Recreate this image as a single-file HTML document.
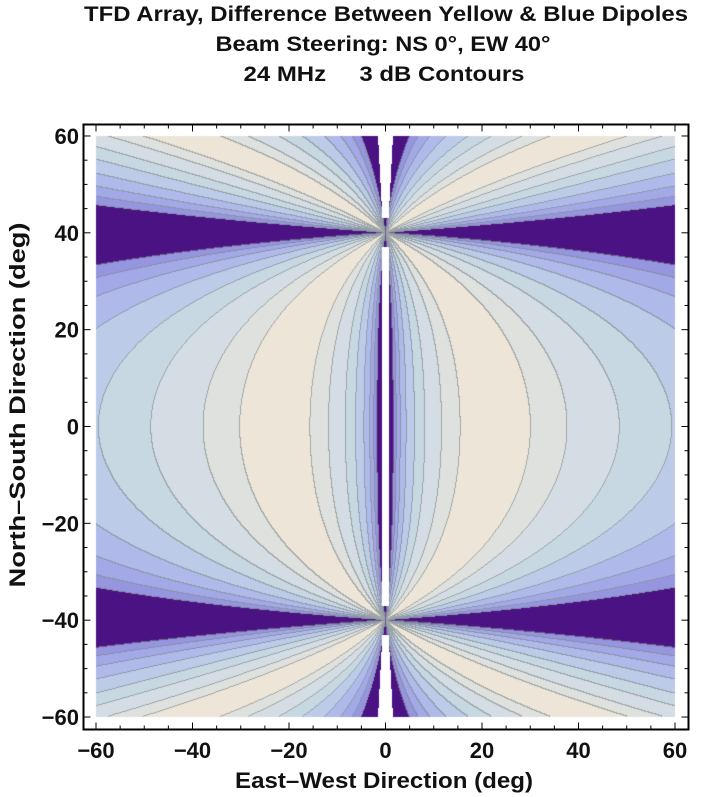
<!DOCTYPE html>
<html><head><meta charset="utf-8"><style>
body{margin:0;background:#fff;width:723px;height:797px;overflow:hidden;position:relative;font-family:"Liberation Sans",Arial,sans-serif}
canvas{position:absolute;left:0;top:0}
svg{position:absolute;left:0;top:0}
text{font-family:"Liberation Sans",Arial,sans-serif;font-weight:bold;fill:#111}
</style></head><body>
<canvas id="cv" width="723" height="797"></canvas>
<svg id="sv" width="723" height="797">
<g>
<text x="386" y="21" font-size="21" text-anchor="middle" textLength="604" lengthAdjust="spacingAndGlyphs">TFD Array, Difference Between Yellow &amp; Blue Dipoles</text>
<text x="383" y="51" font-size="21" text-anchor="middle" textLength="335" lengthAdjust="spacingAndGlyphs">Beam Steering: NS 0°, EW 40°</text>
<text x="384" y="81" font-size="21" text-anchor="middle" textLength="281" lengthAdjust="spacingAndGlyphs" xml:space="preserve">24 MHz     3 dB Contours</text>
</g>
<text x="384" y="788" font-size="22" text-anchor="middle" textLength="298" lengthAdjust="spacingAndGlyphs">East–West Direction (deg)</text>
<text transform="translate(25,405) rotate(-90)" font-size="22" text-anchor="middle" textLength="365" lengthAdjust="spacingAndGlyphs">North–South Direction (deg)</text>
</svg>
<script>
const levels=[93,50,30,21,14.6,10.4,7.6,5.6];
const bandColors=["#ece5d8","#dfe1de","#d4dde3","#c8d8e3","#bccbe8","#afbaea","#a3a8e6","#9696e0","#4b1283"];
const focusY=40;
const xTicks=[-60,-40,-20,0,20,40,60];
const yTicks=[-60,-40,-20,0,20,40,60];
const minorTicks=[-60,-55,-50,-45,-40,-35,-30,-25,-20,-15,-10,-5,0,5,10,15,20,25,30,35,40,45,50,55,60];

function sx(v){return 385.5+v*4.825;}
function sy(v){return 426.5-v*4.842;}
function ix(p){return (p-385.5)/4.825;}
function iy(p){return (426.5-p)/4.842;}
function field(x,y){
  const q=y*y-focusY*focusY;
  const s2=1.89e-4*q*q*(1+3.7e-4*y*y);
  return Math.abs(x*q)/(Math.abs(x*x-s2)+1e-9)*Math.exp(-Math.abs(x)/150);
}
function band(v){let b=0;while(b<levels.length&&v<levels[b])b++;return b;}
function hex(c){return [parseInt(c.substr(1,2),16),parseInt(c.substr(3,2),16),parseInt(c.substr(5,2),16)];}

const cv=document.getElementById('cv');const ctx=cv.getContext('2d');
const x0=Math.round(sx(-60)),x1=Math.round(sx(60)),y0=Math.round(sy(60)),y1=Math.round(sy(-60));
const W=x1-x0,H=y1-y0;
const img=ctx.createImageData(W,H);
const bands=new Int8Array(W*H);
for(let j=0;j<H;j++){for(let i=0;i<W;i++){
  const x=ix(x0+i+0.5),y=iy(y0+j+0.5);const v=field(x,y);
  let b=band(v);
  const ay=Math.abs(y);
  const hw=0.75+Math.max(0,(ay-45)/15)*0.8;
  if(Math.abs(x)<hw&&Math.abs(ay-focusY)>3)b=-1;
  bands[j*W+i]=b;
}}
const rgb=bandColors.map(hex);
for(let j=0;j<H;j++){for(let i=0;i<W;i++){
  const b=bands[j*W+i];let c=b<0?[255,255,255]:rgb[b];
  if(b>=0){const r=i+1<W?bands[j*W+i+1]:b,d=j+1<H?bands[(j+1)*W+i]:b;
    if((r!==b&&r>=0)||(d!==b&&d>=0)){c=[Math.round(c[0]*0.35+128*0.65),Math.round(c[1]*0.35+136*0.65),Math.round(c[2]*0.35+138*0.65)];}}
  const k=(j*W+i)*4;img.data[k]=c[0];img.data[k+1]=c[1];img.data[k+2]=c[2];img.data[k+3]=255;
}}
ctx.putImageData(img,x0,y0);

const sv=document.getElementById('sv');const NS='http://www.w3.org/2000/svg';
function mk(t,a){const e=document.createElementNS(NS,t);for(const k in a)e.setAttribute(k,a[k]);sv.appendChild(e);return e;}
const fr=mk('rect',{x:83.5,y:124.5,width:605,height:605,fill:'none',stroke:'#000','stroke-width':2});


minorTicks.forEach(v=>{
  const major=xTicks.indexOf(v)>=0;const L=major?7:4;
  const px=sx(v),py=sy(v);
  const t1=mk('line',{x1:px,y1:124.5,x2:px,y2:124.5+L,stroke:'#000','stroke-width':1});
  
  
  const t2=mk('line',{x1:px,y1:729.5,x2:px,y2:729.5-L,stroke:'#000','stroke-width':1});
  
  
  const t3=mk('line',{x1:83.5,y1:py,x2:83.5+L,y2:py,stroke:'#000','stroke-width':1});
  
  
  const t4=mk('line',{x1:688.5,y1:py,x2:688.5-L,y2:py,stroke:'#000','stroke-width':1});
  
  
});
xTicks.forEach(v=>{
  const t=mk('text',{x:sx(v),y:758,'font-size':22,'text-anchor':'middle'});
  t.textContent=(v<0?'−':'')+Math.abs(v);
  
  
});
yTicks.forEach(v=>{
  const t=mk('text',{x:79,y:sy(v)+8,'font-size':22,'text-anchor':'end'});
  t.textContent=(v<0?'−':'')+Math.abs(v);
  
  
});
</script>
</body></html>
